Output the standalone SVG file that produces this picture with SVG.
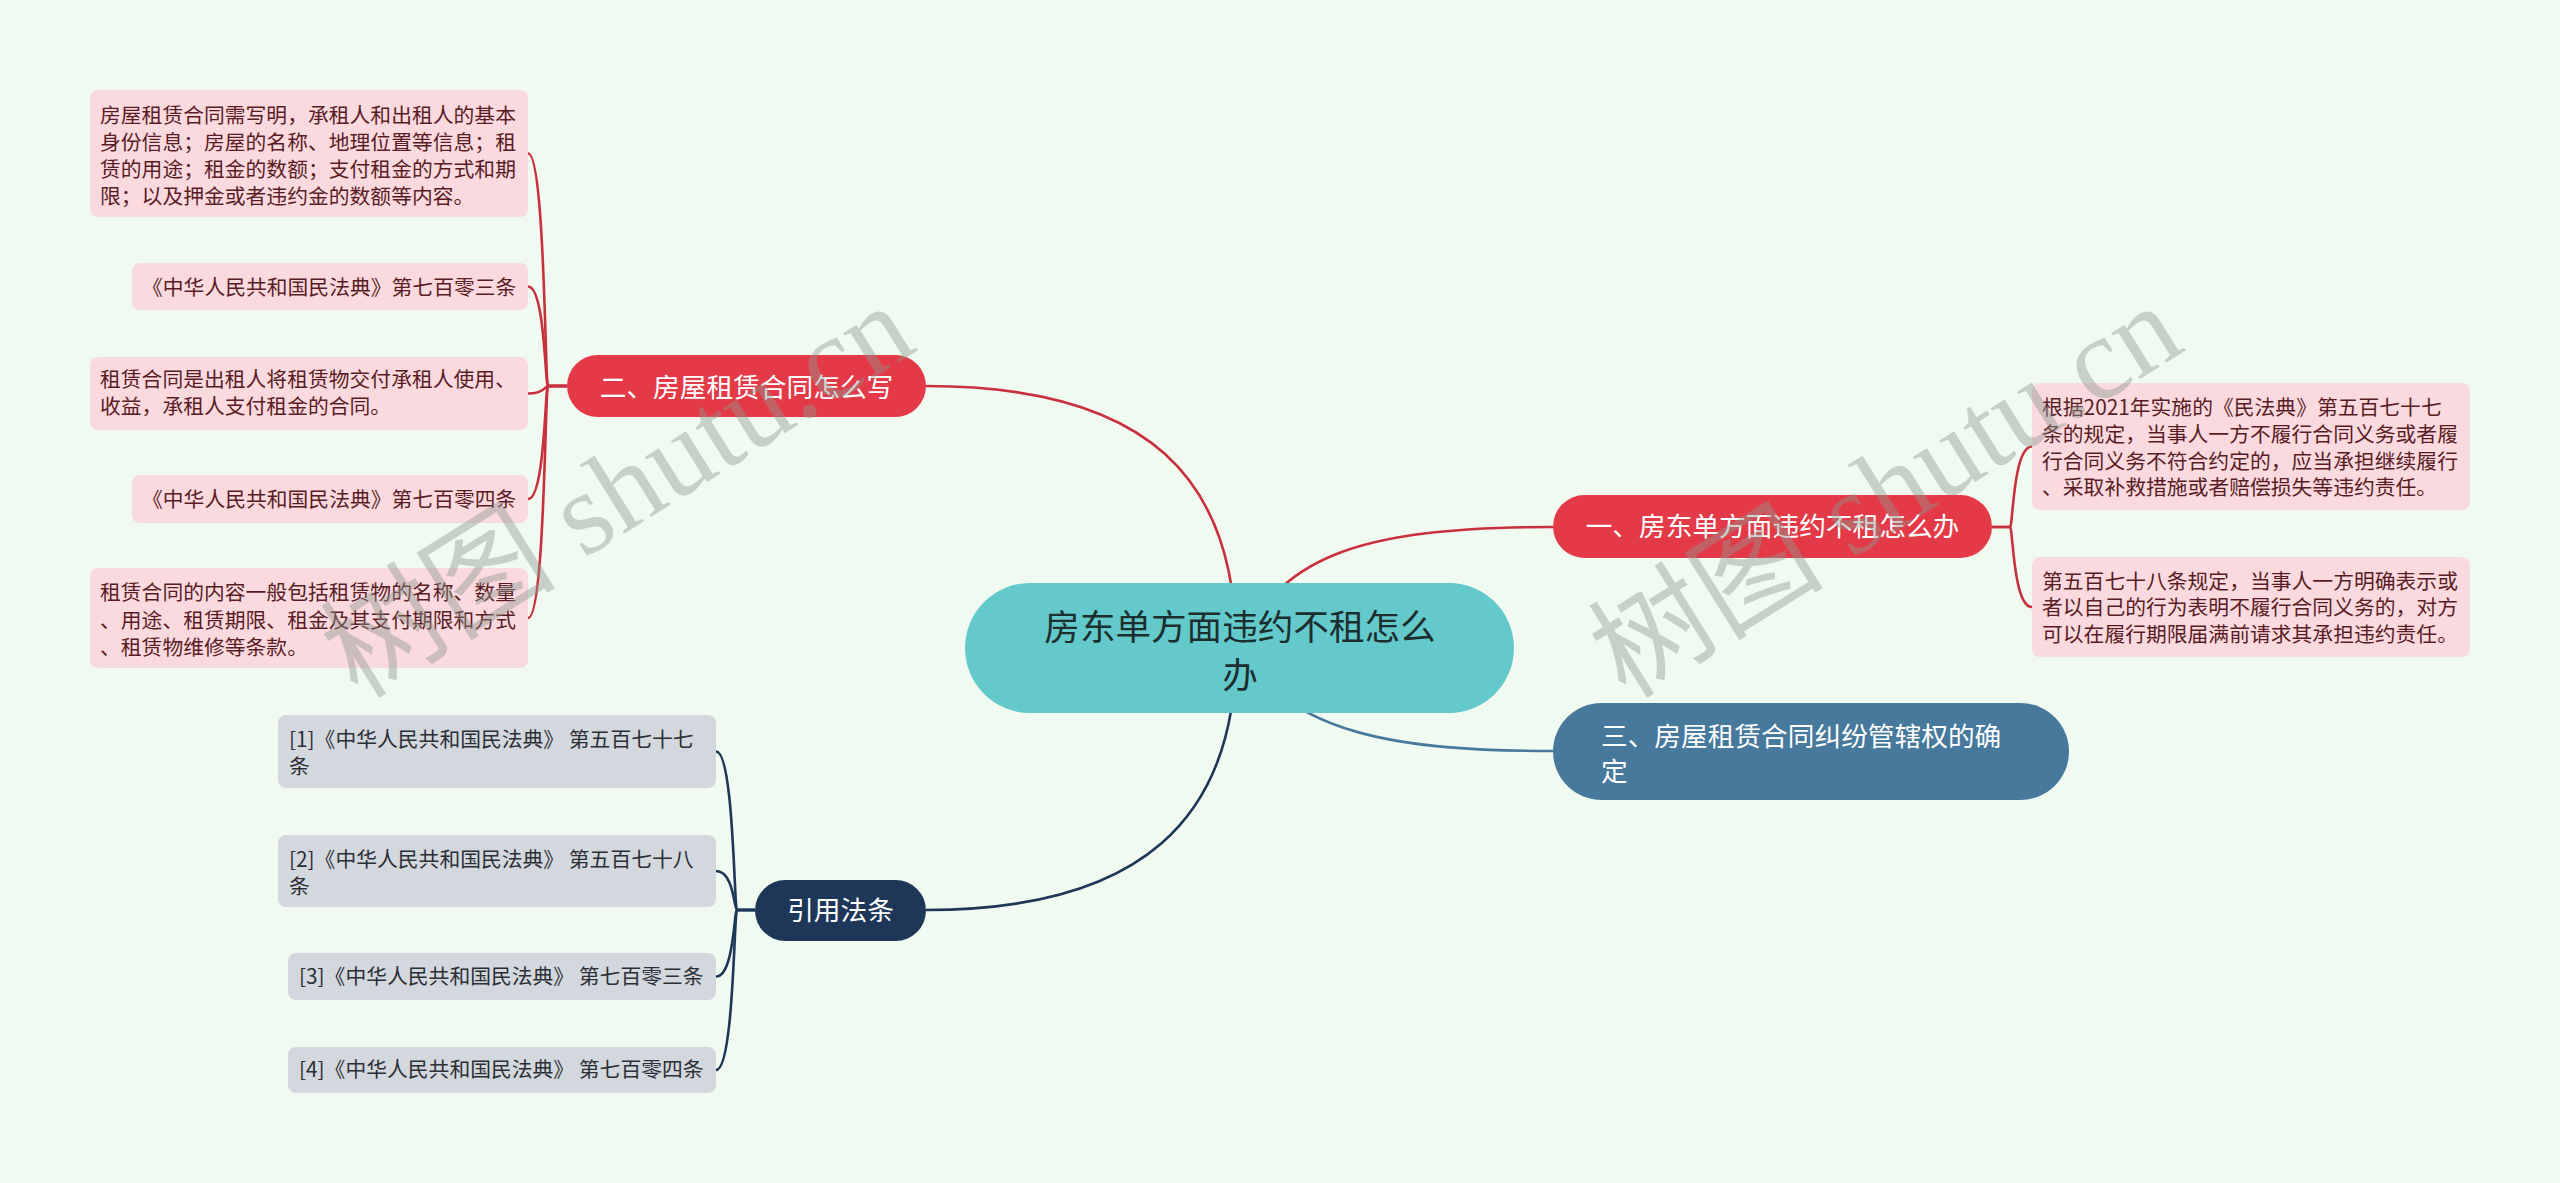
<svg xmlns="http://www.w3.org/2000/svg" width="2560" height="1183" viewBox="0 0 2560 1183">
<style>
text{font-family:"Noto Sans CJK SC","Noto Sans",sans-serif}
.leaf{font-size:20.8px;fill:#5a1c24}
.ref{font-size:20.8px;fill:#2b2f36}
.main{font-size:26.7px;fill:#ffffff}
.center{font-size:35.6px;fill:#1d2e2f}
.pink{fill:#fadadf}
.gray{fill:#d3d7de}
.red{fill:#e43a47}
.wm{font-family:"Liberation Serif","Noto Sans CJK SC",serif;font-size:118px;fill:#8f978f;opacity:0.42}
.cr{fill:none;stroke:#c9303e;stroke-width:2.6}
.cb{fill:none;stroke:#46799c;stroke-width:2.6}
.cn{fill:none;stroke:#1e3759;stroke-width:2.6}
</style>
<rect width="2560" height="1183" fill="#f0faf0"/>
<g id="connectors">
<path class="cr" d="M926,386 C1150,386 1236,480 1236,648"/>
<path class="cr" d="M1239,648 C1280,560 1350,527 1553,527"/>
<path class="cb" d="M1239,648 C1290,735 1400,751 1553,751"/>
<path class="cn" d="M926,910 C1140,910 1236,820 1236,648"/>
<path class="cr" d="M567,386 L548,386 C545,386 545,153.5 528,153.5"/>
<path class="cr" d="M567,386 L548,386 C545,386 545,286.5 528,286.5"/>
<path class="cr" d="M567,386 L548,386 C545,386 545,393.5 528,393.5"/>
<path class="cr" d="M567,386 L548,386 C545,386 545,499 528,499"/>
<path class="cr" d="M567,386 L548,386 C545,386 545,618 528,618"/>
<path class="cr" d="M1992,527 L2010,527 C2013,527 2013,446.5 2032,446.5"/>
<path class="cr" d="M1992,527 L2010,527 C2013,527 2013,607 2032,607"/>
<path class="cn" d="M755,910 L737,910 C734,910 734,751.5 716,751.5"/>
<path class="cn" d="M755,910 L737,910 C734,910 734,871 716,871"/>
<path class="cn" d="M755,910 L737,910 C734,910 734,976.5 716,976.5"/>
<path class="cn" d="M755,910 L737,910 C734,910 734,1070 716,1070"/>
</g>
<g id="center">
<rect x="965" y="583" width="549" height="130" rx="65" fill="#63c9cb"/>
<text class="center" text-anchor="middle"><tspan x="1240" y="640">房东单方面违约不租怎么</tspan><tspan x="1240" y="688">办</tspan></text>
</g>
<g id="n1">
<rect class="red" x="1553" y="495" width="439" height="63" rx="31.5"/>
<text class="main" x="1772.5" y="536" text-anchor="middle">一、房东单方面违约不租怎么办</text>
</g>
<g id="n2">
<rect class="red" x="567" y="355" width="359" height="62" rx="31"/>
<text class="main" x="746.5" y="397" text-anchor="middle">二、房屋租赁合同怎么写</text>
</g>
<g id="n3">
<rect x="1553" y="703" width="516" height="97" rx="48.5" fill="#46799c"/>
<text class="main"><tspan x="1601" y="746">三、房屋租赁合同纠纷管辖权的确</tspan><tspan x="1601" y="781">定</tspan></text>
</g>
<g id="n4">
<rect x="755" y="880" width="171" height="61" rx="30.5" fill="#1e3759"/>
<text class="main" x="840.5" y="920" text-anchor="middle">引用法条</text>
</g>
<g id="l1">
<rect class="pink" x="90" y="90" width="438" height="127" rx="8"/>
<text class="leaf"><tspan x="100" y="123">房屋租赁合同需写明，承租人和出租人的基本</tspan><tspan x="100" y="150">身份信息；房屋的名称、地理位置等信息；租</tspan><tspan x="100" y="177">赁的用途；租金的数额；支付租金的方式和期</tspan><tspan x="100" y="204">限；以及押金或者违约金的数额等内容。</tspan></text>
</g>
<g id="l2">
<rect class="pink" x="132" y="263" width="396" height="47" rx="8"/>
<text class="leaf" x="142" y="295">《中华人民共和国民法典》第七百零三条</text>
</g>
<g id="l3">
<rect class="pink" x="90" y="357" width="438" height="73" rx="8"/>
<text class="leaf"><tspan x="100" y="387">租赁合同是出租人将租赁物交付承租人使用、</tspan><tspan x="100" y="414">收益，承租人支付租金的合同。</tspan></text>
</g>
<g id="l4">
<rect class="pink" x="132" y="475" width="396" height="48" rx="8"/>
<text class="leaf" x="142" y="507">《中华人民共和国民法典》第七百零四条</text>
</g>
<g id="l5">
<rect class="pink" x="90" y="568" width="438" height="100" rx="8"/>
<text class="leaf"><tspan x="100" y="600">租赁合同的内容一般包括租赁物的名称、数量</tspan><tspan x="100" y="628">、用途、租赁期限、租金及其支付期限和方式</tspan><tspan x="100" y="655">、租赁物维修等条款。</tspan></text>
</g>
<g id="r1">
<rect class="pink" x="2032" y="383" width="438" height="127" rx="8"/>
<text class="leaf"><tspan x="2042" y="415">根据2021年实施的《民法典》第五百七十七</tspan><tspan x="2042" y="442">条的规定，当事人一方不履行合同义务或者履</tspan><tspan x="2042" y="469">行合同义务不符合约定的，应当承担继续履行</tspan><tspan x="2042" y="495">、采取补救措施或者赔偿损失等违约责任。</tspan></text>
</g>
<g id="r2">
<rect class="pink" x="2032" y="557" width="438" height="100" rx="8"/>
<text class="leaf"><tspan x="2042" y="589">第五百七十八条规定，当事人一方明确表示或</tspan><tspan x="2042" y="615">者以自己的行为表明不履行合同义务的，对方</tspan><tspan x="2042" y="642">可以在履行期限届满前请求其承担违约责任。</tspan></text>
</g>
<g id="g1">
<rect class="gray" x="278" y="715" width="438" height="73" rx="8"/>
<text class="ref"><tspan x="289" y="747">[1]《中华人民共和国民法典》 第五百七十七</tspan><tspan x="289" y="774">条</tspan></text>
</g>
<g id="g2">
<rect class="gray" x="278" y="835" width="438" height="72" rx="8"/>
<text class="ref"><tspan x="289" y="867">[2]《中华人民共和国民法典》 第五百七十八</tspan><tspan x="289" y="894">条</tspan></text>
</g>
<g id="g3">
<rect class="gray" x="288" y="953" width="428" height="47" rx="8"/>
<text class="ref" x="299" y="984">[3]《中华人民共和国民法典》 第七百零三条</text>
</g>
<g id="g4">
<rect class="gray" x="288" y="1047" width="428" height="46" rx="8"/>
<text class="ref" x="299" y="1077">[4]《中华人民共和国民法典》 第七百零四条</text>
</g>
<g id="watermark">
<text class="wm" transform="translate(358,700) rotate(-32)">树图 shutu.cn</text>
<text class="wm" transform="translate(1626,700) rotate(-32)">树图 shutu.cn</text>
</g>
</svg>
